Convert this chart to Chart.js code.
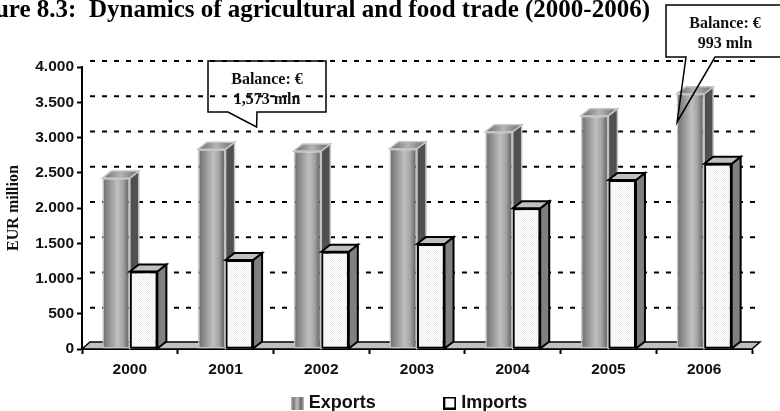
<!DOCTYPE html>
<html><head><meta charset="utf-8">
<style>html,body{margin:0;padding:0;background:#fff;overflow:hidden}#w{position:relative;width:780px;height:411px}</style>
<script src="https://cdn.jsdelivr.net/npm/chart.js@4"></script>
</head><body><div id="w"><canvas id="c" width="780" height="411"></canvas></div>
<script>
const categories = ["2000","2001","2002","2003","2004","2005","2006"];
const exportsValues = [2425,2835,2809,2840,3082,3310,3620];
const importsValues = [1100,1262,1380,1490,1995,2397,2627];
const titleText = "Figure 8.3:  Dynamics of agricultural and food trade (2000-2006)";
const yAxisTitle = "EUR million";
const callouts = [
  {lines:["Balance: €","1,573 mln"], left:208,right:326,top:61,bottom:112,t1:228,t2:257,tipCat:1,tipOff:31,tipVal:3150,cx:267},
  {lines:["Balance: €","993 mln"], left:666,right:784,top:5,bottom:57,t1:686,t2:715,tipCat:6,tipOff:-27,tipVal:3220,cx:725}
];
const DX=9, DY=7, GX=8, GY=6, LEGEND_DX=35;

function mk(w,h,f){const c=document.createElement('canvas');c.width=w;c.height=h;f(c.getContext('2d'));return c;}
const dither=mk(2,2,g=>{g.fillStyle='#fff';g.fillRect(0,0,2,2);g.fillStyle='#ececec';g.fillRect(0,0,1,1);g.fillRect(1,1,1,1);});
const swatchE=mk(13,13,g=>{const l=g.createLinearGradient(0,0,13,0);l.addColorStop(0,'#c8c8c8');l.addColorStop(.2,'#777');l.addColorStop(.5,'#c0c0c0');l.addColorStop(.8,'#666');l.addColorStop(1,'#c0c0c0');g.fillStyle=l;g.fillRect(0,0,13,13);});
const swatchI=mk(13,13,g=>{g.fillStyle='#fff';g.fillRect(0,0,13,13);g.strokeStyle='#000';g.lineWidth=2;g.strokeRect(1,1,11,11);});

function exportFill(ctx){
  const chart=ctx.chart,x=chart.scales.x;
  if(!x||ctx.dataIndex===undefined)return '#999';
  const c=x.getPixelForValue(ctx.dataIndex),w=x.width/categories.length*0.2875;
  const g=chart.ctx.createLinearGradient(c-w,0,c,0);
  g.addColorStop(0,'#6c6c6c');g.addColorStop(.55,'#c0c0c0');g.addColorStop(.75,'#a4a4a4');g.addColorStop(1,'#565656');
  return g;
}
function poly(c,p,fill,stroke,lw){c.beginPath();p.forEach((q,i)=>i?c.lineTo(q[0],q[1]):c.moveTo(q[0],q[1]));c.closePath();c.fillStyle=fill;c.fill();if(stroke){c.strokeStyle=stroke;c.lineWidth=lw;c.lineJoin='miter';c.stroke();}}
function faces(chart,idx){
  const c=chart.ctx,meta=chart.getDatasetMeta(idx);
  meta.data.forEach(b=>{
    const l=b.x-b.width/2,r=b.x+b.width/2,t=b.y,base=b.base;
    if(idx===0){
      const g=c.createLinearGradient(l,0,r+DX,0);g.addColorStop(0,'#6a6a6a');g.addColorStop(.5,'#b4b4b4');g.addColorStop(1,'#6a6a6a');
      poly(c,[[r,t],[r+DX,t-DY],[r+DX,base-DY],[r,base]],'#505050','#c4c4c4',1.5);
      poly(c,[[l,t],[l+DX,t-DY],[r+DX,t-DY],[r,t]],g,'#c4c4c4',1.5);
    }else{
      poly(c,[[r,t],[r+DX,t-DY],[r+DX,base-DY],[r,base]],'#808080','#000',2);
      poly(c,[[l,t],[l+DX,t-DY],[r+DX,t-DY],[r,t]],'#c0c0c0','#000',2);
    }
  });
}
const scene={
  id:'scene',
  beforeInit(chart){
    const lg=chart.legend,f=lg.fit;
    lg.fit=function(){f.call(this);this.height=30;};
  },
  afterLayout(chart){const lg=chart.legend;lg.left+=LEGEND_DX;lg.right+=LEGEND_DX;lg.top=394-lg.options.labels.padding;},
  beforeDatasetsDraw(chart){
    const c=chart.ctx,y=chart.scales.y,a=chart.chartArea;
    c.save();
    poly(c,[[a.left,a.bottom],[a.left+GX,a.bottom-GY-1],[a.right+GX,a.bottom-GY-1],[a.right,a.bottom]],'#c0c0c0','#000',1.5);
    c.strokeStyle='#000';c.lineWidth=2;c.setLineDash([5,7]);
    y.ticks.forEach(t=>{
      if(t.value===0)return;
      const p=y.getPixelForValue(t.value)-GY;
      c.beginPath();c.moveTo(a.left+GX,p);c.lineTo(a.right+GX,p);c.stroke();
    });
    c.restore();
  },
  beforeDatasetDraw(chart,args){
    if(args.index===1)return false;
    faces(chart,0);
  },
  afterDatasetDraw(chart,args){
    if(args.index===0){faces(chart,1);chart.getDatasetMeta(1).controller.draw();}
  },
  afterDatasetsDraw(chart){
    const c=chart.ctx,xs=chart.scales.x,ys=chart.scales.y;
    c.save();
    callouts.forEach((k,i)=>{
      const tx=xs.getPixelForValue(k.tipCat)+k.tipOff,ty=ys.getPixelForValue(k.tipVal);
      if(i===1){c.fillStyle='#fff';c.fillRect(k.left,k.top,k.right-k.left,k.bottom-k.top);}
      c.beginPath();
      c.moveTo(k.t1,k.bottom);c.lineTo(k.left,k.bottom);c.lineTo(k.left,k.top);c.lineTo(k.right,k.top);c.lineTo(k.right,k.bottom);c.lineTo(k.t2,k.bottom);c.lineTo(tx,ty);c.closePath();
      c.strokeStyle='#000';c.lineWidth=1.5;c.stroke();
      c.fillStyle='#111';c.font='bold 16px "Liberation Serif"';c.textAlign='center';c.textBaseline='middle';
      c.fillText(k.lines[0],k.cx,k.top+19);c.fillText(k.lines[1],k.cx,k.top+39);
    });
    c.fillStyle='#000';c.font='bold 25px "Liberation Serif"';c.textAlign='right';c.textBaseline='alphabetic';
    c.fillText(titleText,650,17);
    c.restore();
  }
};
new Chart(document.getElementById('c'),{
  type:'bar',
  data:{labels:categories,datasets:[
    {label:'Exports',data:exportsValues,backgroundColor:exportFill,borderColor:'#c4c4c4',borderWidth:1.5,borderSkipped:false},
    {label:'Imports',data:importsValues,backgroundColor:()=>document.getElementById('c').getContext('2d').createPattern(dither,'repeat'),borderColor:'#000',borderWidth:2,borderSkipped:false}
  ]},
  plugins:[scene],
  options:{
    responsive:false,animation:false,
    layout:{padding:{left:0,right:28,top:67,bottom:0}},
    datasets:{bar:{categoryPercentage:0.575,barPercentage:1}},
    plugins:{
      title:{display:false},tooltip:{enabled:false},
      legend:{position:'bottom',labels:{
        usePointStyle:true,pointStyleWidth:5,boxHeight:13,padding:71.5,color:'#111',
        font:{family:'"Liberation Sans"',weight:'bold',size:18},
        generateLabels:()=>[
          {text:'Exports',pointStyle:swatchE,fillStyle:'#999',strokeStyle:'#999',lineWidth:0,datasetIndex:0,fontColor:'#111'},
          {text:'Imports',pointStyle:swatchI,fillStyle:'#fff',strokeStyle:'#000',lineWidth:0,datasetIndex:1,fontColor:'#111'}
        ]
      }}
    },
    scales:{
      x:{
        afterFit(s){s.height=32;},
        grid:{drawOnChartArea:false,tickLength:5,tickWidth:2,tickColor:'#000'},
        border:{color:'#000',width:2},
        ticks:{color:'#111',padding:6,maxRotation:0,font:{family:'"Liberation Sans"',weight:'bold',size:15.5}}
      },
      y:{
        min:0,max:4000,
        afterFit(s){s.width=82;},
        grid:{drawOnChartArea:false,tickLength:5,tickWidth:2,tickColor:'#000'},
        border:{color:'#000',width:2},
        title:{display:true,text:yAxisTitle,color:'#111',padding:{top:4,bottom:0},font:{family:'"Liberation Serif"',weight:'bold',size:16}},
        ticks:{stepSize:500,color:'#111',padding:3,font:{family:'"Liberation Sans"',weight:'bold',size:15.5},
          callback:v=>v>=1000?Math.floor(v/1000)+'.'+String(v%1000).padStart(3,'0'):String(v)}
      }
    }
  }
});
</script></body></html>
